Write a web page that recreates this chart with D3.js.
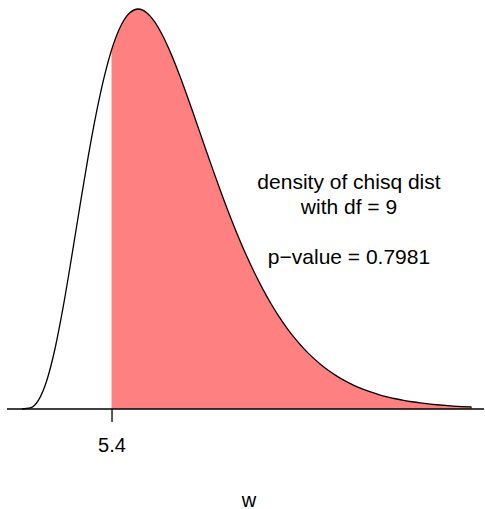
<!DOCTYPE html>
<html>
<head>
<meta charset="utf-8">
<script src="https://cdn.jsdelivr.net/npm/d3@7"></script>
<style>
  html, body { margin: 0; padding: 0; background: #fff; }
  svg { display: block; }
  text { font-family: "Liberation Sans", Arial, sans-serif; fill: #000; }
</style>
</head>
<body>
<div id="chart"></div>
<script>
// chi-square (df = 9) density
const wValues = [0, 0.5, 1, 1.5, 2, 2.5, 3, 3.5, 4, 4.5, 5, 5.4, 5.5, 6, 6.5, 7, 7.5, 8, 8.5, 9, 9.5, 10,
  10.5, 11, 11.5, 12, 12.5, 13, 13.5, 14, 14.5, 15, 15.5, 16, 16.5, 17, 17.5, 18, 18.5, 19, 19.5, 20,
  20.5, 21, 21.5, 22, 22.5, 23, 23.5, 24, 24.5, 25, 25.5, 26, 26.5, 27, 27.1];
const densityValues = [0, 0.000262, 0.002305, 0.007420, 0.015813, 0.026893, 0.039647, 0.052960, 0.065819,
  0.077411, 0.087173, 0.093434, 0.094772, 0.100085, 0.103149, 0.104121, 0.103237, 0.100777, 0.097038,
  0.092310, 0.086867, 0.080956, 0.074789, 0.068544, 0.062370, 0.056376, 0.050648, 0.045248, 0.040216,
  0.035573, 0.031323, 0.027468, 0.023994, 0.020883, 0.018113, 0.015660, 0.013499, 0.011602, 0.009945,
  0.008503, 0.007252, 0.006171, 0.005240, 0.004440, 0.003755, 0.003169, 0.002670, 0.002246, 0.001886,
  0.001581, 0.001323, 0.001106, 0.000923, 0.000770, 0.000641, 0.000533, 0.000513];
const observedW = 5.4;
const tickValues = [5.4];
const tickLabels = ["5.4"];
const xLabel = "w";
const noteLines = ["density of chisq dist", "with df = 9", "", "p\u2212value = 0.7981"];

const W = 485, H = 509;
const svg = d3.select("#chart").append("svg").attr("width", W).attr("height", H);

const x = d3.scaleLinear().domain([0, 27.1]).range([21.9, 471.7]);
const y = d3.scaleLinear().domain([0, 0.10412]).range([409, 9]);

const pts = wValues.map((w, i) => ({ w, d: densityValues[i] }));
const tail = pts.filter(p => p.w >= observedW);

// shaded tail
svg.append("path")
  .datum(tail)
  .attr("fill", "#FF8080")
  .attr("stroke", "none")
  .attr("d", d3.area().x(p => x(p.w)).y0(y(0)).y1(p => y(p.d)).curve(d3.curveMonotoneX));

// density curve
svg.append("path")
  .datum(pts)
  .attr("fill", "none")
  .attr("stroke", "#000")
  .attr("stroke-width", 1.3)
  .attr("d", d3.line().x(p => x(p.w)).y(p => y(p.d)).curve(d3.curveMonotoneX));

// baseline
svg.append("line")
  .attr("x1", 7).attr("x2", 484)
  .attr("y1", y(0)).attr("y2", y(0))
  .attr("stroke", "#000").attr("stroke-width", 1.3);

// axis with single tick
const axis = d3.axisBottom(x).tickValues(tickValues)
  .tickFormat((d, i) => tickLabels[i]).tickSize(13).tickPadding(16);
const gAxis = svg.append("g").attr("transform", `translate(0,${y(0)})`).call(axis);
gAxis.select(".domain").remove();
gAxis.selectAll(".tick line").attr("stroke", "#000").attr("stroke-width", 1.3);
gAxis.selectAll(".tick text")
  .style("font-family", "'Liberation Sans', Arial, sans-serif")
  .attr("font-size", 20).attr("fill", "#000");

// x label
svg.append("text").attr("x", 249).attr("y", 506.5)
  .attr("text-anchor", "middle").attr("font-size", 20).text(xLabel);

// annotation
const note = svg.append("text").attr("text-anchor", "middle").attr("font-size", 21);
noteLines.forEach((t, i) => {
  note.append("tspan").attr("x", 349).attr("y", 189 + i * 25).text(t);
});
</script>
</body>
</html>
